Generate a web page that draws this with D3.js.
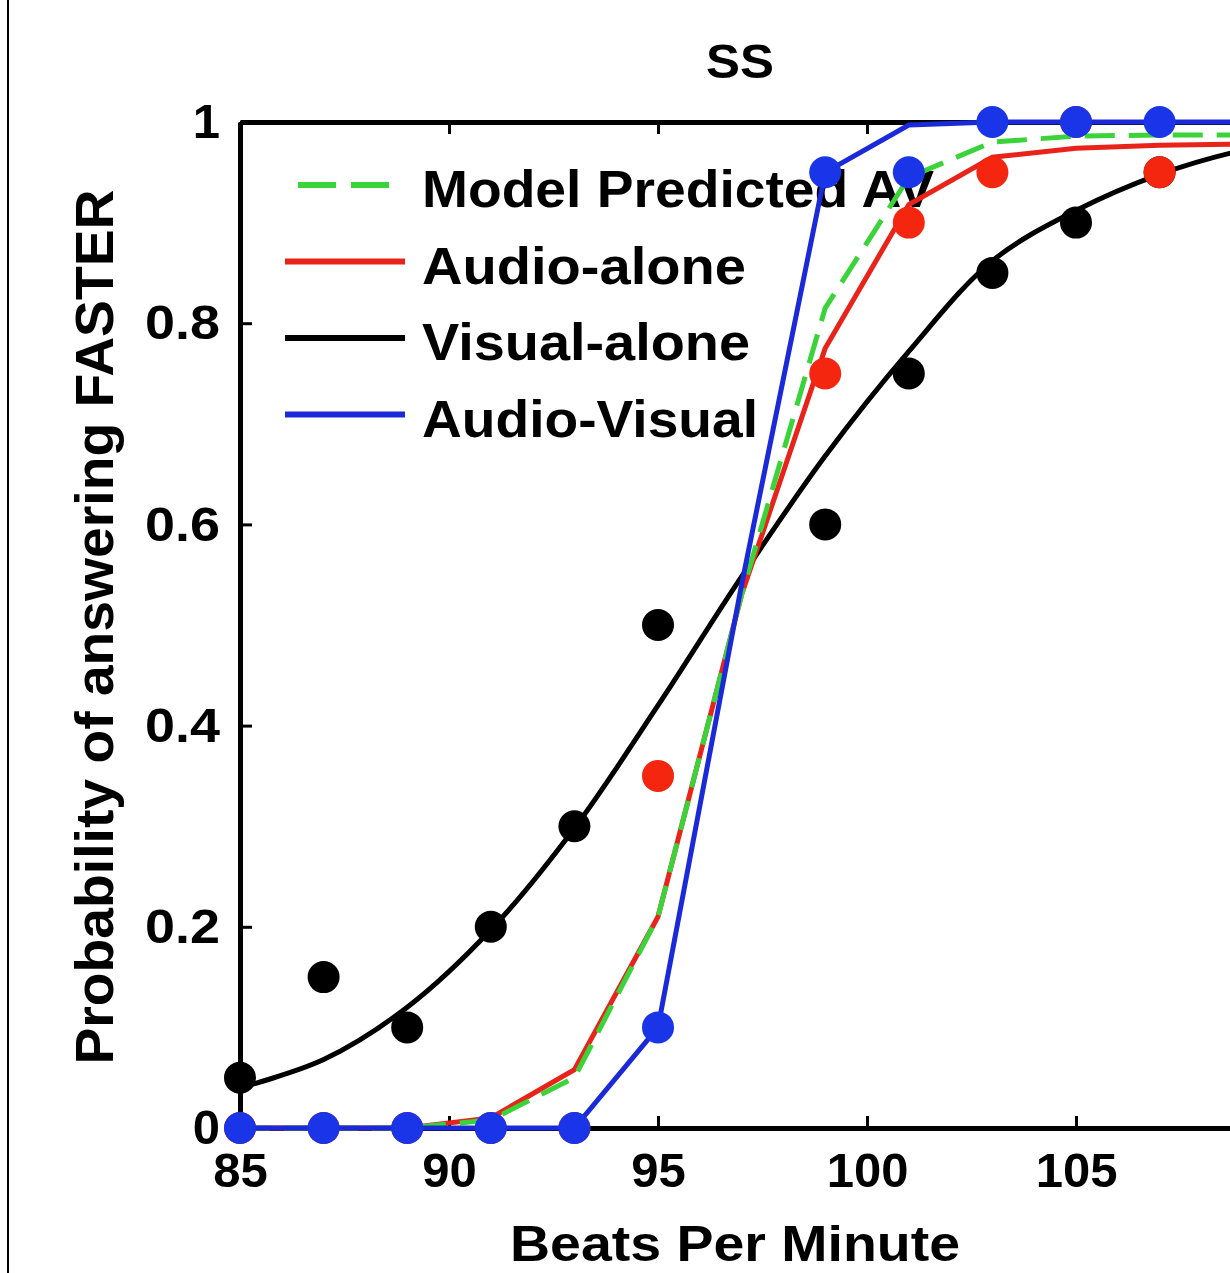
<!DOCTYPE html>
<html>
<head>
<meta charset="utf-8">
<script src="https://cdn.jsdelivr.net/npm/d3@7"></script>
<style>
  body { margin: 0; background: #fff; }
  svg { display: block; font-family: "Liberation Sans", Arial, sans-serif; font-weight: bold; }
</style>
</head>
<body>
<svg id="chart" width="1230" height="1273"></svg>
<script>
// observed proportions
const bpm = [85, 87, 89, 91, 93, 95, 99, 101, 103, 105, 107];
const visualObs = [0.05, 0.15, 0.10, 0.20, 0.30, 0.50, 0.60, 0.75, 0.85, 0.90, 0.95];
const audioObs  = [0, 0, 0, 0, 0, 0.35, 0.75, 0.90, 0.95, 1.0, 0.95];
const avObs     = [0, 0, 0, 0, 0, 0.10, 0.95, 0.95, 1.0, 1.0, 1.0];

// fitted curves, sampled at odd BPM
const fitBpm    = [85, 87, 89, 91, 93, 95, 97, 99, 101, 103, 105, 107, 109, 111, 113, 115];
const visualFit = [0.04, 0.068, 0.12, 0.197, 0.298, 0.42, 0.548, 0.668, 0.772, 0.862, 0.912, 0.948, 0.972, 0.985, 0.992, 0.995];
const audioFit  = [0, 0, 0, 0.01, 0.058, 0.21, 0.53, 0.775, 0.918, 0.965, 0.974, 0.977, 0.978, 0.979, 0.979, 0.979];
const modelFit  = [0, 0, 0, 0.008, 0.05, 0.21, 0.53, 0.815, 0.945, 0.98, 0.986, 0.987, 0.987, 0.987, 0.987, 0.987];
const avFit     = [0, 0, 0, 0, 0, 0.10, 0.54, 0.95, 0.997, 1, 1, 1, 1, 1, 1, 1];

const xTicks = [85, 90, 95, 100, 105, 110, 115];
const xTickLabels = ["85", "90", "95", "100", "105", "", ""];
const yTicks = [0, 0.2, 0.4, 0.6, 0.8, 1];
const yTickLabels = ["0", "0.2", "0.4", "0.6", "0.8", "1"];

const legendItems = [
  { label: "Model Predicted AV", color: "#3ad43a", dash: "38,15", len: 512 },
  { label: "Audio-alone", color: "#e8231a", dash: null, len: 324 },
  { label: "Visual-alone", color: "#000", dash: null, len: 328 },
  { label: "Audio-Visual", color: "#1a2ad8", dash: null, len: 336 }
];

const svg = d3.select("#chart");

const x = d3.scaleLinear().domain([85, 115]).range([240, 240 + 30 * 41.8]);
const y = d3.scaleLinear().domain([0, 1]).range([1128, 122]);

// frame line at the left edge
svg.append("line")
  .attr("x1", 8).attr("x2", 8).attr("y1", 0).attr("y2", 1273)
  .attr("stroke", "#000").attr("stroke-width", 2);

// title
svg.append("text")
  .attr("x", 740).attr("y", 78)
  .attr("text-anchor", "middle")
  .attr("textLength", 68).attr("lengthAdjust", "spacingAndGlyphs")
  .style("font-size", "48px")
  .text("SS");

// axes
const xAxis = (g) => g.attr("transform", `translate(0,${y(0)})`)
  .call(d3.axisBottom(x).tickValues(xTicks).tickSizeInner(-12).tickSizeOuter(0).tickPadding(24)
    .tickFormat((d, i) => xTickLabels[i]))
  .call((g) => g.selectAll("text").style("font-size", "49px").attr("fill", "#000"));

const xTop = (g) => g.attr("transform", `translate(0,${y(1)})`)
  .call(d3.axisTop(x).tickValues(xTicks).tickSizeInner(-12).tickSizeOuter(0).tickFormat(""));

const yAxis = (g) => g.attr("transform", `translate(${x(85)},0)`)
  .call(d3.axisLeft(y).tickValues(yTicks).tickSizeInner(-12).tickSizeOuter(0).tickPadding(20)
    .tickFormat((d, i) => yTickLabels[i]))
  .call((g) => g.selectAll("text")
    .style("font-size", "49px").attr("fill", "#000")
    .attr("textLength", (d, i) => yTickLabels[i].length > 1 ? 75 : null)
    .attr("lengthAdjust", "spacingAndGlyphs"));

[xAxis, xTop, yAxis].forEach((ax) => {
  svg.append("g").call(ax)
    .call((g) => g.select(".domain").attr("stroke", "#000").attr("stroke-width", 5))
    .call((g) => g.selectAll(".tick line").attr("stroke", "#000").attr("stroke-width", 3))
    .attr("font-family", null).attr("font-size", null);
});

// axis labels
svg.append("text")
  .attr("x", 735).attr("y", 1261)
  .attr("text-anchor", "middle")
  .attr("textLength", 450).attr("lengthAdjust", "spacingAndGlyphs")
  .style("font-size", "50px")
  .text("Beats Per Minute");

svg.append("text")
  .attr("transform", "translate(113,627) rotate(-90)")
  .attr("text-anchor", "middle")
  .attr("textLength", 875).attr("lengthAdjust", "spacingAndGlyphs")
  .style("font-size", "54px")
  .text("Probability of answering FASTER");

// legend (drawn under the data)
const legend = svg.append("g");
legendItems.forEach((d, i) => {
  const ly = 185 + i * 76.5;
  legend.append("line")
    .attr("x1", d.dash ? 298 : 285).attr("x2", d.dash ? 392 : 405)
    .attr("y1", ly).attr("y2", ly)
    .attr("stroke", d.color).attr("stroke-width", 6)
    .attr("stroke-dasharray", d.dash);
  legend.append("text")
    .attr("x", 422).attr("y", ly + 22)
    .attr("textLength", d.len).attr("lengthAdjust", "spacingAndGlyphs")
    .style("font-size", "52px")
    .text(d.label);
});

const curve = (vals, c) => d3.line()
  .x((d, i) => x(fitBpm[i]))
  .y((d) => y(d))
  .curve(c)(vals);

const dots = (vals, color) => svg.append("g")
  .attr("fill", color)
  .selectAll("circle")
  .data(vals)
  .join("circle")
  .attr("cx", (d, i) => x(bpm[i]))
  .attr("cy", (d) => y(d))
  .attr("r", 16);

// visual-alone
svg.append("path").attr("d", curve(visualFit, d3.curveCatmullRom))
  .attr("fill", "none").attr("stroke", "#000").attr("stroke-width", 5);
dots(visualObs, "#000");

// audio-alone
svg.append("path").attr("d", curve(audioFit, d3.curveLinear))
  .attr("fill", "none").attr("stroke", "#e8231a").attr("stroke-width", 5);
dots(audioObs, "#f4260f");

// model predicted AV
svg.append("path").attr("d", curve(modelFit, d3.curveLinear))
  .attr("fill", "none").attr("stroke", "#3ad43a").attr("stroke-width", 5)
  .attr("stroke-dasharray", "30,14");

// audio-visual
svg.append("path").attr("d", curve(avFit, d3.curveLinear))
  .attr("fill", "none").attr("stroke", "#1a2ad8").attr("stroke-width", 5);
dots(avObs, "#1a35e8");
</script>
</body>
</html>
